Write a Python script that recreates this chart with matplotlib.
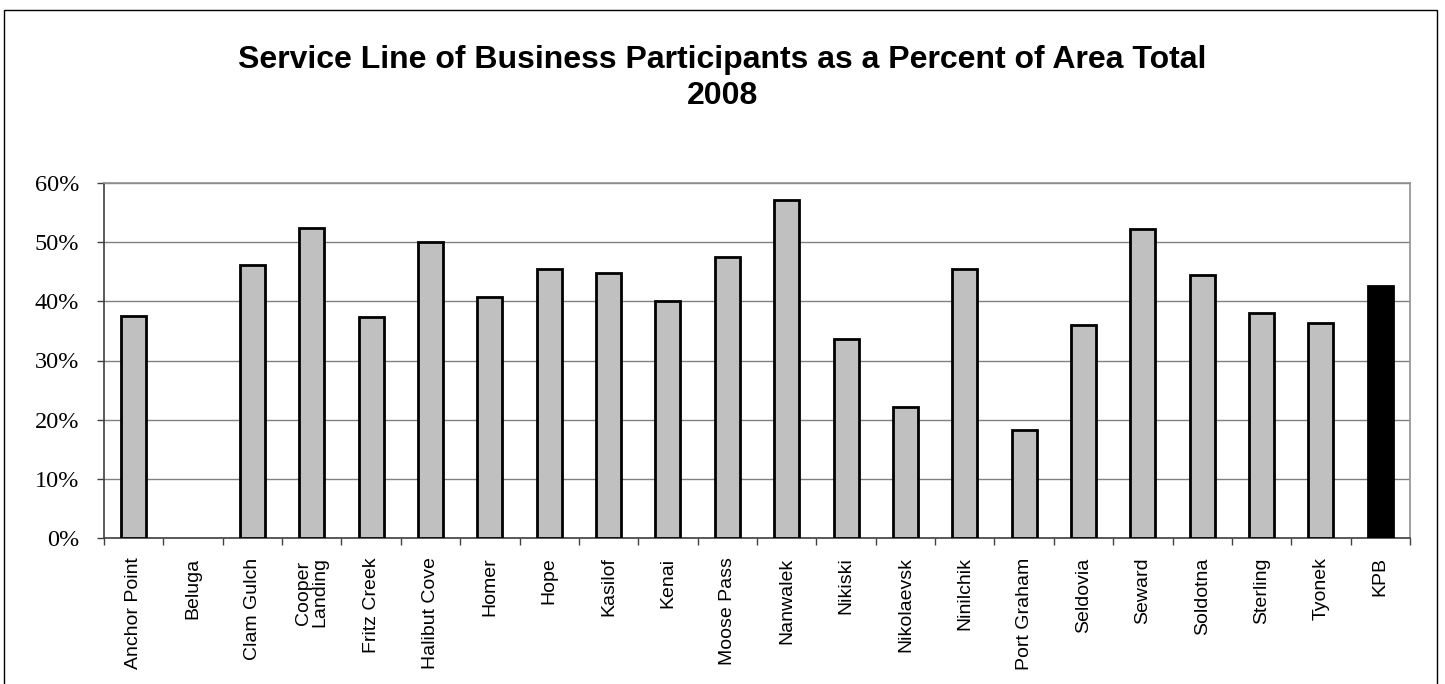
import numpy as np
import matplotlib
matplotlib.use("Agg")
import matplotlib.pyplot as plt
from matplotlib.patches import Rectangle
from matplotlib.ticker import PercentFormatter, MultipleLocator

# ── Data ──────────────────────────────────────────────────────────────────────
AREAS = [
    "Anchor Point", "Beluga", "Clam Gulch", "Cooper\nLanding", "Fritz Creek",
    "Halibut Cove", "Homer", "Hope", "Kasilof", "Kenai", "Moose Pass",
    "Nanwalek", "Nikiski", "Nikolaevsk", "Ninilchik", "Port Graham",
    "Seldovia", "Seward", "Soldotna", "Sterling", "Tyonek", "KPB",
]
PERCENTS = [
    37.5, 0.0, 46.1, 52.4, 37.3, 50.0, 40.8, 45.5, 44.8, 40.0, 47.5,
    57.1, 33.6, 22.1, 45.4, 18.2, 36.0, 52.3, 44.5, 38.1, 36.4, 42.6,
]
HIGHLIGHT = "KPB"

TITLE = "Service Line of Business Participants as a Percent of Area Total\n2008"


def main():
    fig = plt.figure(figsize=(14.45, 6.84), dpi=100, facecolor="white")
    ax = fig.add_axes([104 / 1445, 1 - 538 / 684, (1410 - 104) / 1445, (538 - 183) / 684])

    # outer chart border (bottom runs off the image)
    fig.patches.append(Rectangle((4 / 1445, -0.05), (1437 - 4) / 1445, 1.05 - 10 / 684,
                                 transform=fig.transFigure, fill=False,
                                 edgecolor="black", linewidth=1.0))

    x = np.arange(len(AREAS))
    colors = ["black" if a == HIGHLIGHT else "#c0c0c0" for a in AREAS]
    heights = [p if p > 0 else np.nan for p in PERCENTS]
    ax.bar(x, heights, width=0.42, color=colors, edgecolor="black",
           linewidth=2.0, zorder=3)

    ax.set_xlim(-0.5, len(AREAS) - 0.5)
    ax.set_ylim(0, 60)
    ax.yaxis.set_major_locator(MultipleLocator(10))
    ax.yaxis.set_major_formatter(PercentFormatter(decimals=0))
    ax.grid(axis="y", color="#808080", linewidth=1.0, zorder=0)

    ax.set_xticks(x)
    ax.set_xticklabels(AREAS, rotation=90, fontsize=14,
                       family="Liberation Sans", linespacing=0.95)
    ax.set_xticks(np.arange(-0.5, len(AREAS)), minor=True)
    ax.tick_params(axis="x", which="major", length=0, pad=14)
    ax.tick_params(axis="x", which="minor", length=5, width=1.0,
                   color="#404040", direction="out")
    ax.tick_params(axis="y", length=5, width=1.0, color="#404040",
                   direction="out", pad=13)
    for lab in ax.get_yticklabels():
        lab.set_family("Liberation Serif")
        lab.set_fontsize(17.5)

    ax.spines["left"].set_color("#404040")
    ax.spines["bottom"].set_color("#404040")
    ax.spines["top"].set_color("#909090")
    ax.spines["right"].set_color("#909090")
    for s in ax.spines.values():
        s.set_linewidth(1.2)

    fig.text(0.5, 1 - 78 / 684, TITLE, ha="center", va="center",
             fontsize=23, fontweight="bold", family="Liberation Sans",
             linespacing=1.25)

    fig.savefig("out.png", dpi=100, facecolor="white")
    plt.close(fig)


if __name__ == "__main__":
    main()
